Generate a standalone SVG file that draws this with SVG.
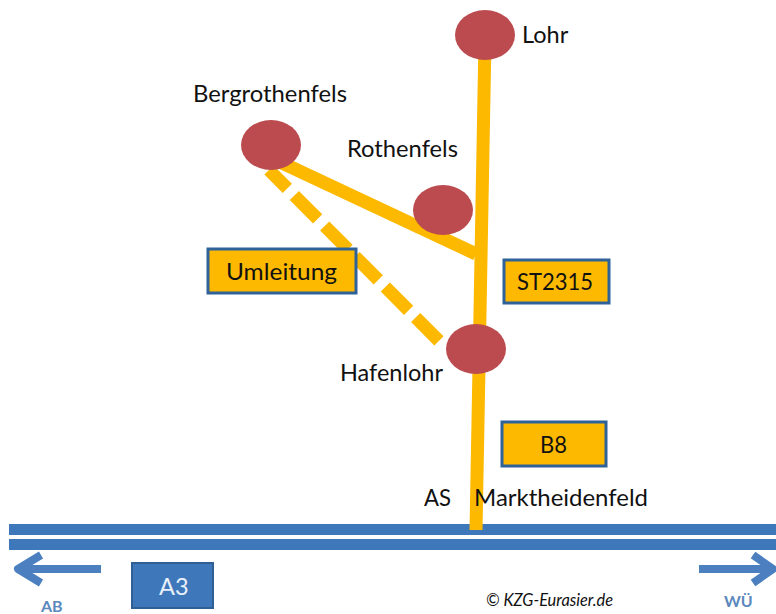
<svg xmlns="http://www.w3.org/2000/svg" width="776" height="614" viewBox="0 0 776 614">
<style>
text{font-family:"Lato","Liberation Sans",sans-serif;fill:#111;font-size:23.5px}
.road{stroke:#fdb900;fill:none;stroke-width:13}
.city{fill:#bb4b4f}
.box{fill:#fdb900;stroke:#2f6299;stroke-width:3}
.hw{fill:#3f77bb}
.arr{fill:none;stroke:#4b7fbf;stroke-width:8;stroke-linejoin:round}
.blue{fill:#5b88bd;font-weight:700;font-size:16px}
</style>
<rect width="776" height="614" fill="#fff"/>
<g id="highway">
<rect class="hw" x="9" y="524" width="767" height="11"/>
<rect class="hw" x="9" y="539" width="767" height="11"/>
<path class="arr" d="M101 569H20M41 555L18 569L41 583"/>
<path class="arr" d="M699 569H772M753 555L773 569L753 583"/>
</g>
<g id="connectors">
<path class="road" d="M485 40L476 530"/>
<path class="road" d="M280 162L476 254"/>
<path class="road" d="M269 170L442 344" stroke-dasharray="33 10" stroke-dashoffset="7"/>
</g>
<g id="lohr"><ellipse class="city" cx="485" cy="35" rx="30" ry="25"/><text x="522" y="43">Lohr</text></g>
<g id="bergrothenfels"><ellipse class="city" cx="271" cy="145" rx="30" ry="25"/><text x="193" y="102" textLength="154" lengthAdjust="spacingAndGlyphs">Bergrothenfels</text></g>
<g id="rothenfels"><ellipse class="city" cx="443" cy="210" rx="30" ry="25"/><text x="347" y="157" textLength="111" lengthAdjust="spacingAndGlyphs">Rothenfels</text></g>
<g id="hafenlohr"><ellipse class="city" cx="476" cy="349" rx="30" ry="25"/><text x="340" y="381" textLength="103" lengthAdjust="spacingAndGlyphs">Hafenlohr</text></g>
<g id="umleitung"><rect class="box" x="208" y="249" width="148" height="44"/><text x="226" y="280" textLength="111" lengthAdjust="spacingAndGlyphs">Umleitung</text></g>
<g id="st2315"><rect class="box" x="504" y="260" width="105" height="43"/><text x="517" y="290" textLength="76" lengthAdjust="spacingAndGlyphs">ST2315</text></g>
<g id="b8"><rect class="box" x="502" y="422" width="104" height="44"/><text x="540" y="453" textLength="27" lengthAdjust="spacingAndGlyphs">B8</text></g>
<g id="as"><text x="424" y="506" textLength="27" lengthAdjust="spacingAndGlyphs">AS</text><text x="474" y="506" textLength="174" lengthAdjust="spacingAndGlyphs">Marktheidenfeld</text></g>
<g id="a3"><rect x="132" y="563" width="81" height="45" fill="#3f77bb" stroke="#2f5f95" stroke-width="2"/><text x="159" y="595" style="fill:#e8f0fa">A3</text></g>
<g id="labels">
<text class="blue" x="41" y="612">AB</text>
<text class="blue" x="724" y="607">WÜ</text>
<text x="486" y="606" style="font-size:16.5px;font-style:italic" textLength="127" lengthAdjust="spacingAndGlyphs">© KZG-Eurasier.de</text>
</g>
</svg>
